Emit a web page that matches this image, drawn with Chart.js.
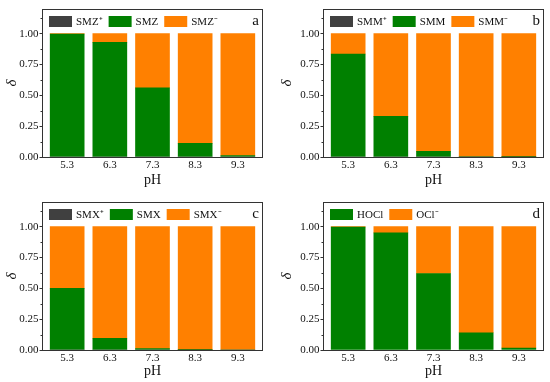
<!DOCTYPE html>
<html>
<head>
<meta charset="utf-8">
<script src="https://cdn.jsdelivr.net/npm/chart.js@4/dist/chart.umd.min.js"></script>
<style>
html, body { margin: 0; padding: 0; background: #fff; }
#wrap { position: relative; width: 550px; height: 382px; }
#wrap canvas { position: absolute; }
</style>
</head>
<body>
<div id="wrap">
  <canvas id="chartA" width="275" height="191" style="left:0;top:0"></canvas>
  <canvas id="chartB" width="275" height="191" style="left:275px;top:0"></canvas>
  <canvas id="chartC" width="275" height="191" style="left:0;top:191px"></canvas>
  <canvas id="chartD" width="275" height="191" style="left:275px;top:191px"></canvas>
</div>
<script>
// pH values (x categories)
const pH = [5.3, 6.3, 7.3, 8.3, 9.3];
const yTicks = [0, 0.25, 0.5, 0.75, 1.0];
const yMinorTicks = [0.125, 0.375, 0.625, 0.875, 1.125];

// a - SMZ species fractions
const smzNames = ['SMZ⁺', 'SMZ', 'SMZ⁻'];
const smzCation = [0, 0, 0, 0, 0];
const smzNeutral = [0.997, 0.93, 0.56, 0.11, 0.012];
const smzAnion = [0.003, 0.07, 0.44, 0.89, 0.988];

// b - SMM
const smmNames = ['SMM⁺', 'SMM', 'SMM⁻'];
const smmCation = [0, 0, 0, 0, 0];
const smmNeutral = [0.835, 0.33, 0.046, 0.004, 0.001];
const smmAnion = [0.165, 0.67, 0.954, 0.996, 0.999];

// c - SMX
const smxNames = ['SMX⁺', 'SMX', 'SMX⁻'];
const smxCation = [0, 0, 0, 0, 0];
const smxNeutral = [0.50, 0.095, 0.012, 0.001, 0];
const smxAnion = [0.50, 0.905, 0.988, 0.999, 1.0];

// d - HOCl / OCl-
const chlorNames = ['HOCl', 'OCl⁻'];
const hoclFrac = [0.997, 0.95, 0.62, 0.14, 0.016];
const oclFrac = [0.003, 0.05, 0.38, 0.86, 0.984];

const colors = { cation: '#404040', neutral: '#008000', anion: '#ff8000' };
const serif = "'Liberation Serif', 'Times New Roman', serif";

// frame round the plot, minor ticks, legend inside the plot, panel letter
const framePlugin = {
  id: 'frame',
  afterDraw(chart, args, opts) {
    const a = chart.chartArea;
    const ctx = chart.ctx;
    const yScale = chart.scales.y;
    ctx.save();
    ctx.strokeStyle = '#333';
    ctx.lineWidth = 1;
    ctx.strokeRect(Math.round(a.left) + 0.5, Math.round(a.top) + 0.5,
      Math.round(a.right - a.left) - 1, Math.round(a.bottom - a.top));

    // minor ticks on the y axis
    ctx.beginPath();
    yMinorTicks.forEach(v => {
      const py = Math.round(yScale.getPixelForValue(v)) + 0.5;
      ctx.moveTo(a.left, py);
      ctx.lineTo(a.left - 1.5, py);
    });
    ctx.stroke();

    // legend row
    ctx.font = '11px ' + serif;
    ctx.textBaseline = 'middle';
    ctx.textAlign = 'left';
    let x = a.left + 7;
    const y = a.top + 7;
    chart.data.datasets.forEach(ds => {
      ctx.fillStyle = ds.backgroundColor;
      ctx.fillRect(x, y, 23, 11);
      x += 23 + 4;
      ctx.fillStyle = '#111';
      ctx.fillText(ds.label, x, y + 6);
      x += ctx.measureText(ds.label).width + 6;
    });

    ctx.fillStyle = '#111';
    ctx.font = '15px ' + serif;
    ctx.textAlign = 'right';
    ctx.fillText(opts.letter, a.right - 4, a.top + 12);
    ctx.restore();
  }
};

function series(vals) {
  return vals.map((v, i) => ({ x: pH[i], y: v }));
}

function makePanel(id, names, sets, setColors, letter, box) {
  const datasets = sets.map((s, k) => ({
    label: names[k],
    data: series(s),
    backgroundColor: setColors[k],
    borderWidth: 0,
    barThickness: 34
  }));
  new Chart(document.getElementById(id), {
    type: 'bar',
    data: { datasets: datasets },
    plugins: [framePlugin],
    options: {
      responsive: false,
      animation: false,
      layout: { padding: { left: 0, top: box.top, right: box.right, bottom: 0 } },
      plugins: {
        frame: { letter: letter },
        tooltip: { enabled: false },
        legend: { display: false }
      },
      scales: {
        x: {
          type: 'linear',
          stacked: true,
          offset: false,
          min: 4.71,
          max: 9.89,
          border: { display: false },
          grid: { display: false, drawTicks: false },
          afterBuildTicks: (axis) => { axis.ticks = pH.map(v => ({ value: v })); },
          afterFit: (axis) => { axis.height = box.xh; },
          ticks: {
            padding: 2,
            color: '#111',
            font: { family: serif, size: 11 },
            callback: (v) => Number(v).toFixed(1)
          },
          title: {
            display: true,
            text: 'pH',
            color: '#111',
            font: { family: serif, size: 14 },
            padding: { top: 2, bottom: 2 }
          }
        },
        y: {
          stacked: true,
          min: 0,
          max: 1.2,
          border: { display: false },
          grid: { drawOnChartArea: false, drawTicks: true, tickLength: 2.5, color: '#333' },
          afterBuildTicks: (axis) => { axis.ticks = yTicks.map(v => ({ value: v })); },
          afterFit: (axis) => { axis.width = box.yw; },
          ticks: {
            padding: 1,
            color: '#111',
            font: { family: serif, size: 11 },
            callback: (v) => Number(v).toFixed(2)
          },
          title: {
            display: true,
            text: 'δ',
            color: '#111',
            font: { family: serif, size: 15, style: 'italic' },
            padding: { top: 3, bottom: 0 }
          }
        }
      }
    }
  });
}

const triColors = [colors.cation, colors.neutral, colors.anion];

makePanel('chartA', smzNames, [smzCation, smzNeutral, smzAnion], triColors, 'a',
  { top: 9, right: 12, yw: 42, xh: 34 });
makePanel('chartB', smmNames, [smmCation, smmNeutral, smmAnion], triColors, 'b',
  { top: 9, right: 6, yw: 48, xh: 34 });
makePanel('chartC', smxNames, [smxCation, smxNeutral, smxAnion], triColors, 'c',
  { top: 11, right: 12, yw: 42, xh: 32 });
makePanel('chartD', chlorNames, [hoclFrac, oclFrac], [colors.neutral, colors.anion], 'd',
  { top: 11, right: 6, yw: 48, xh: 32 });
</script>
</body>
</html>
